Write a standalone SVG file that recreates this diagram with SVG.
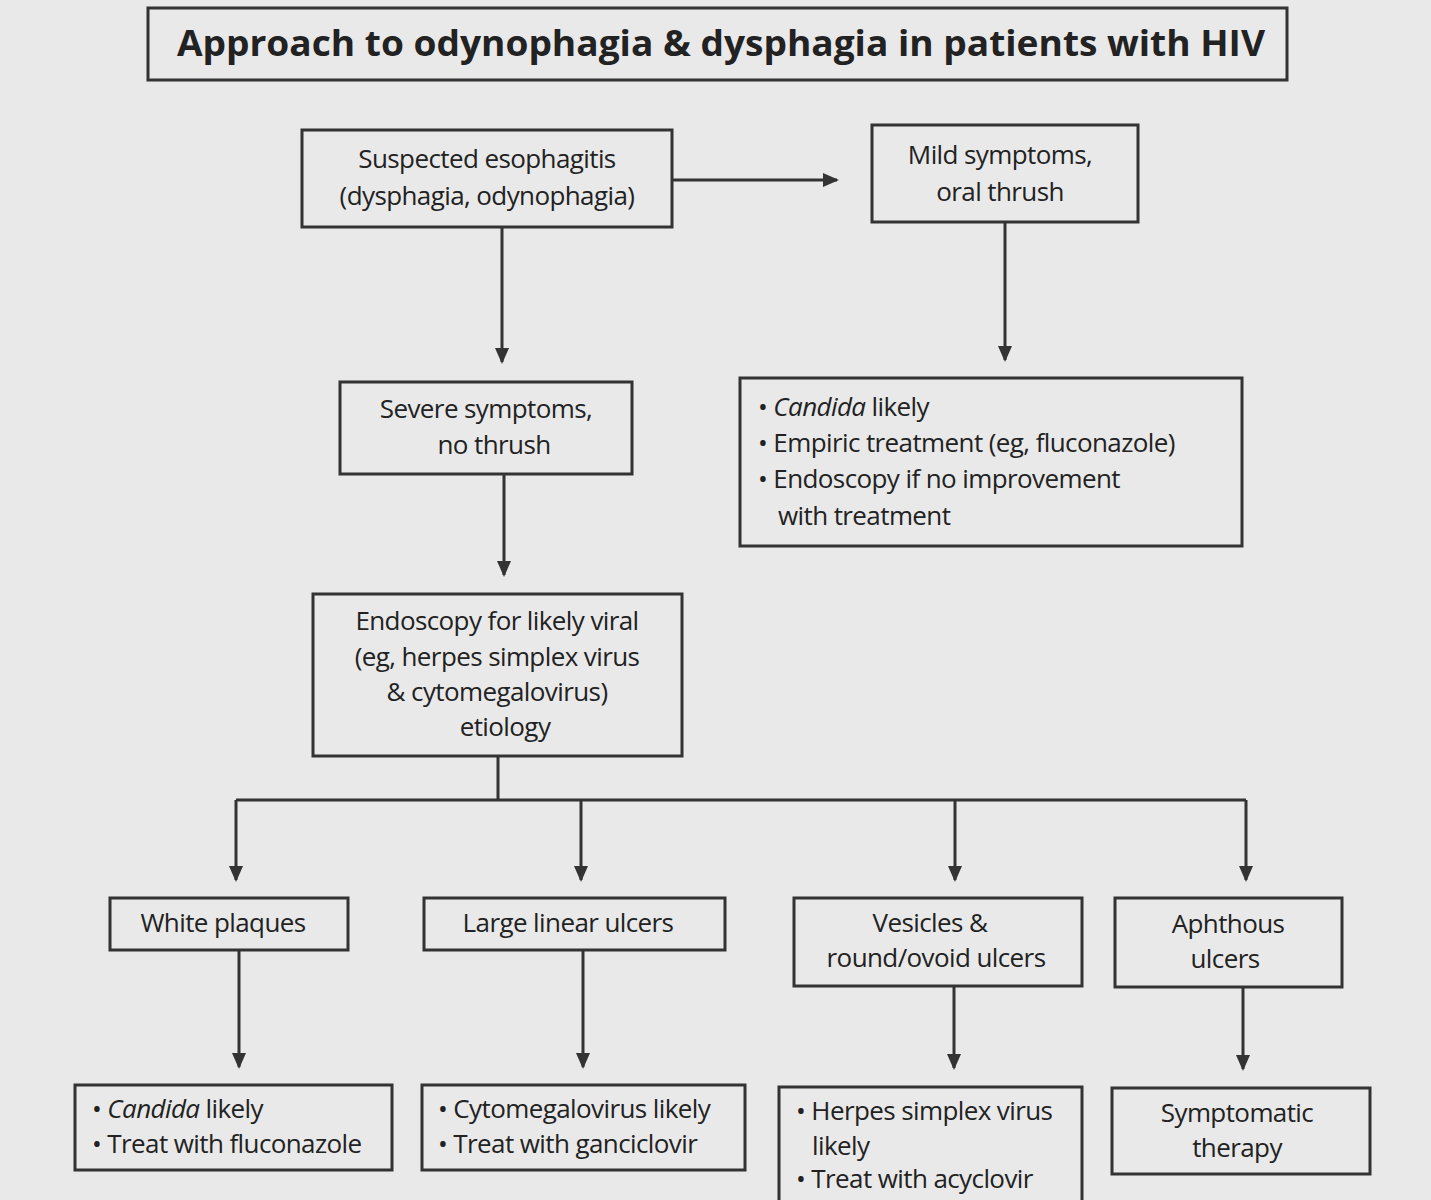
<svg xmlns="http://www.w3.org/2000/svg" width="1431" height="1200" viewBox="0 0 1431 1200">
<defs>
<style>
.b{fill:none;stroke:#333;stroke-width:3}
.t{font-family:"Open Sans","Liberation Sans",sans-serif;font-size:26px;fill:#222;letter-spacing:-0.6px}
.c{text-anchor:middle}
.l{stroke:#333;stroke-width:3;fill:none}
</style>
<marker id="a" markerWidth="16" markerHeight="14" refX="14" refY="7" orient="auto" markerUnits="userSpaceOnUse"><path d="M0,0 L16,7 L0,14 Z" fill="#333"/></marker>
</defs>
<rect width="1431" height="1200" fill="#e9e9e9"/>
<g id="title"><rect class="b" x="148" y="8" width="1139" height="72"/><text x="721" y="56" class="c" textLength="1088" lengthAdjust="spacingAndGlyphs" style="font-family:'Open Sans','Liberation Sans',sans-serif;font-size:36px;font-weight:bold;fill:#222">Approach to odynophagia &amp; dysphagia in patients with HIV</text></g>
<g id="connectors">
<line class="l" x1="672" y1="180" x2="837" y2="180" marker-end="url(#a)"/>
<line class="l" x1="1005" y1="222" x2="1005" y2="360" marker-end="url(#a)"/>
<line class="l" x1="502" y1="227" x2="502" y2="362" marker-end="url(#a)"/>
<line class="l" x1="504" y1="474" x2="504" y2="575" marker-end="url(#a)"/>
<polyline class="l" points="498,756 498,800"/>
<line class="l" x1="236" y1="800" x2="1246" y2="800"/>
<line class="l" x1="236" y1="800" x2="236" y2="880" marker-end="url(#a)"/>
<line class="l" x1="581" y1="800" x2="581" y2="880" marker-end="url(#a)"/>
<line class="l" x1="955" y1="800" x2="955" y2="880" marker-end="url(#a)"/>
<line class="l" x1="1246" y1="800" x2="1246" y2="880" marker-end="url(#a)"/>
<line class="l" x1="239" y1="950" x2="239" y2="1067" marker-end="url(#a)"/>
<line class="l" x1="583" y1="950" x2="583" y2="1067" marker-end="url(#a)"/>
<line class="l" x1="954" y1="986" x2="954" y2="1068" marker-end="url(#a)"/>
<line class="l" x1="1243" y1="987" x2="1243" y2="1069" marker-end="url(#a)"/>
</g>
<g id="n1"><rect class="b" x="302" y="130" width="370" height="97"/><text class="t c" x="487" y="168">Suspected esophagitis</text><text class="t c" x="487" y="205">(dysphagia, odynophagia)</text></g>
<g id="n2"><rect class="b" x="872" y="125" width="266" height="97"/><text class="t c" x="1000" y="164">Mild symptoms,</text><text class="t c" x="1000" y="201">oral thrush</text></g>
<g id="n3"><rect class="b" x="740" y="378" width="502" height="168"/><text class="t" x="758" y="416">• <tspan font-style="italic">Candida</tspan> likely</text><text class="t" x="758" y="452">• Empiric treatment (eg, fluconazole)</text><text class="t" x="758" y="488">• Endoscopy if no improvement</text><text class="t" x="778" y="525">with treatment</text></g>
<g id="n4"><rect class="b" x="340" y="382" width="292" height="92"/><text class="t c" x="486" y="418">Severe symptoms,</text><text class="t c" x="494" y="454">no thrush</text></g>
<g id="n5"><rect class="b" x="313" y="594" width="369" height="162"/><text class="t c" x="497" y="630">Endoscopy for likely viral</text><text class="t c" x="497" y="666">(eg, herpes simplex virus</text><text class="t c" x="497" y="701">&amp; cytomegalovirus)</text><text class="t c" x="505" y="736">etiology</text></g>
<g id="n6"><rect class="b" x="110" y="898" width="238" height="52"/><text class="t c" x="223" y="932">White plaques</text></g>
<g id="n7"><rect class="b" x="424" y="898" width="301" height="52"/><text class="t c" x="568" y="932">Large linear ulcers</text></g>
<g id="n8"><rect class="b" x="794" y="898" width="288" height="88"/><text class="t c" x="930" y="932">Vesicles &amp;</text><text class="t c" x="936" y="967">round/ovoid ulcers</text></g>
<g id="n9"><rect class="b" x="1115" y="898" width="227" height="89"/><text class="t c" x="1228" y="933">Aphthous</text><text class="t c" x="1225" y="968">ulcers</text></g>
<g id="n10"><rect class="b" x="75" y="1085" width="317" height="85"/><text class="t" x="92" y="1118">• <tspan font-style="italic">Candida</tspan> likely</text><text class="t" x="92" y="1153">• Treat with fluconazole</text></g>
<g id="n11"><rect class="b" x="422" y="1085" width="323" height="85"/><text class="t" x="438" y="1118">• Cytomegalovirus likely</text><text class="t" x="438" y="1153">• Treat with ganciclovir</text></g>
<g id="n12"><rect class="b" x="779" y="1087" width="303" height="130"/><text class="t" x="796" y="1120">• Herpes simplex virus</text><text class="t" x="812" y="1155">likely</text><text class="t" x="796" y="1188">• Treat with acyclovir</text></g>
<g id="n13"><rect class="b" x="1112" y="1088" width="258" height="86"/><text class="t c" x="1237" y="1122">Symptomatic</text><text class="t c" x="1237" y="1157">therapy</text></g>
</svg>
